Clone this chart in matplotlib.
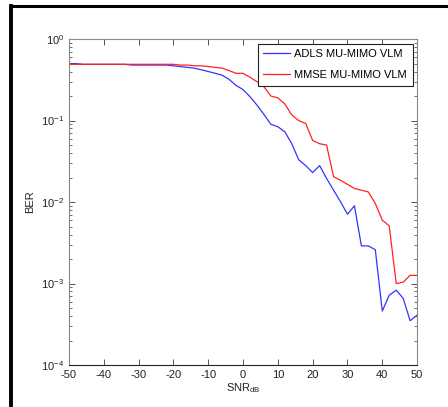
import matplotlib
matplotlib.use("Agg")
import matplotlib.pyplot as plt
from matplotlib.lines import Line2D
from matplotlib.ticker import LogLocator, FixedLocator
import numpy as np

plt.rcParams['font.family'] = ['Liberation Sans', 'DejaVu Sans']
plt.rcParams['mathtext.fontset'] = 'custom'
plt.rcParams['mathtext.rm'] = 'Liberation Sans'
plt.rcParams['axes.unicode_minus'] = False

snr = list(range(-50, 51, 2))
ber_adls = [0.50, 0.50, 0.49, 0.49, 0.49, 0.49, 0.49, 0.49, 0.49, 0.48,
            0.48, 0.48, 0.48, 0.48, 0.48,
            0.47, 0.46, 0.45, 0.44, 0.42, 0.40, 0.38, 0.36, 0.32, 0.27,
            0.24, 0.196, 0.155, 0.119, 0.090, 0.084, 0.073, 0.052, 0.033, 0.028,
            0.023, 0.028, 0.0195, 0.014, 0.0101, 0.0071, 0.0090, 0.0029, 0.0029, 0.0026,
            0.00046, 0.00072, 0.00083, 0.00066, 0.00035, 0.00041]
ber_mmse = [0.49, 0.49, 0.49, 0.49, 0.49, 0.49, 0.49, 0.49, 0.49, 0.49,
            0.49, 0.49, 0.49, 0.49, 0.49,
            0.49, 0.48, 0.48, 0.47, 0.47, 0.46, 0.45, 0.44, 0.41, 0.38,
            0.38, 0.34, 0.30, 0.26, 0.20, 0.19, 0.16, 0.117, 0.100, 0.092,
            0.057, 0.052, 0.050, 0.0205, 0.0185, 0.0165, 0.0147, 0.0140, 0.0133, 0.0096,
            0.0060, 0.0051, 0.0010, 0.00104, 0.00126, 0.00126]

fig = plt.figure(figsize=(4.48, 4.07), dpi=100)
ax = fig.add_axes([0.154, 0.103, 0.777, 0.801])

ax.plot(snr, ber_adls, color='#3333ff', lw=0.9, label='ADLS MU-MIMO VLM')
ax.plot(snr, ber_mmse, color='#ff2222', lw=0.9, label='MMSE MU-MIMO VLM')

ax.set_yscale('log')
ax.set_xlim(-50, 50)
ax.set_ylim(1e-4, 1)
ax.set_xticks(range(-50, 51, 10))
ax.yaxis.set_major_locator(FixedLocator([1e-4, 1e-3, 1e-2, 1e-1, 1]))
ax.yaxis.set_minor_locator(LogLocator(base=10, subs=np.arange(2, 10)))
ax.set_yticklabels([r'$10^{-4}$', r'$10^{-3}$', r'$10^{-2}$', r'$10^{-1}$', r'$10^{0}$'])
ax.tick_params(which='both', direction='in', top=True, right=True, labelsize=8, colors='#555555', labelcolor='#222222')
ax.tick_params(which='major', length=4, width=0.7)
ax.tick_params(which='minor', length=2, width=0.6)
for s in ['left', 'top', 'right']:
    ax.spines[s].set_color('#888888')
ax.spines['bottom'].set_color('#222222')

ax.set_xlabel(r'SNR$_{\mathrm{dB}}$', fontsize=8, labelpad=1, color='#222222')
ax.set_ylabel('BER', fontsize=8, labelpad=4, color='#222222')

leg = ax.legend(loc='upper right', fontsize=8, frameon=True, fancybox=False,
                edgecolor='#222222', framealpha=1, handlelength=2.4,
                handletextpad=0.4, borderpad=0.5,
                borderaxespad=0.4, labelspacing=1.0)
leg.get_frame().set_linewidth(0.8)

fig.add_artist(Line2D([0.025, 1.0], [0.985, 0.985], transform=fig.transFigure, color='black', lw=2.2))
fig.add_artist(Line2D([0.025, 0.025], [0.0, 0.985], transform=fig.transFigure, color='black', lw=2.8))

fig.savefig('out.png', dpi=100)
